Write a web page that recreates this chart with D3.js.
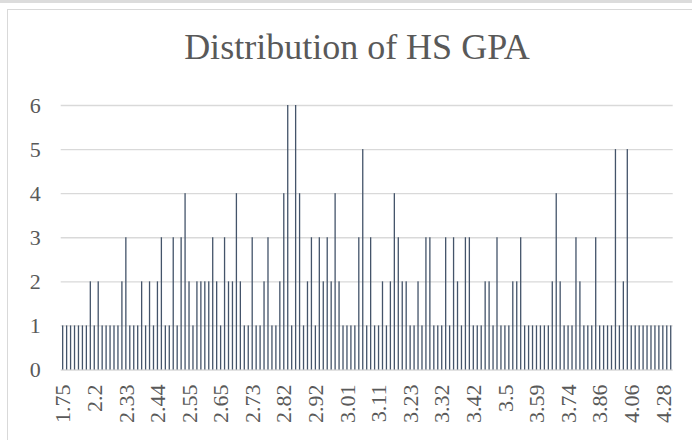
<!DOCTYPE html>
<html>
<head>
<meta charset="utf-8">
<script src="https://cdn.jsdelivr.net/npm/d3@7"></script>
<style>
  html, body { margin: 0; padding: 0; background: #fff; }
  svg { display: block; }
</style>
</head>
<body>
<svg id="chart" width="692" height="440"></svg>
<script>
// HS GPA values (sorted unique), one bar per value
const gpa = [
  '1.75', '1.8', '1.88', '1.9', '1.95', '2', '2.07', '2.13',
  '2.2', '2.21', '2.23', '2.25', '2.26', '2.28', '2.3', '2.31',
  '2.33', '2.34', '2.36', '2.37', '2.38', '2.4', '2.41', '2.43',
  '2.44', '2.45', '2.46', '2.48', '2.49', '2.5', '2.52', '2.53',
  '2.55', '2.56', '2.57', '2.58', '2.6', '2.61', '2.62', '2.63',
  '2.65', '2.66', '2.67', '2.68', '2.69', '2.7', '2.71', '2.72',
  '2.73', '2.74', '2.75', '2.76', '2.77', '2.78', '2.8', '2.81',
  '2.82', '2.83', '2.84', '2.85', '2.87', '2.88', '2.89', '2.9',
  '2.92', '2.93', '2.94', '2.95', '2.96', '2.97', '2.98', '3',
  '3.01', '3.02', '3.03', '3.04', '3.06', '3.07', '3.08', '3.1',
  '3.11', '3.12', '3.14', '3.15', '3.17', '3.18', '3.2', '3.21',
  '3.23', '3.24', '3.25', '3.26', '3.27', '3.28', '3.3', '3.31',
  '3.32', '3.33', '3.34', '3.35', '3.37', '3.38', '3.39', '3.4',
  '3.42', '3.43', '3.44', '3.45', '3.46', '3.47', '3.48', '3.49',
  '3.5', '3.51', '3.52', '3.53', '3.54', '3.55', '3.57', '3.58',
  '3.59', '3.6', '3.62', '3.64', '3.66', '3.68', '3.7', '3.72',
  '3.74', '3.75', '3.77', '3.78', '3.8', '3.81', '3.83', '3.84',
  '3.86', '3.88', '3.9', '3.93', '3.95', '3.98', '4', '4.03',
  '4.06', '4.09', '4.12', '4.14', '4.17', '4.2', '4.22', '4.25',
  '4.28', '4.31', '4.35'
];

// number of students with each GPA
const counts = [
  1, 1, 1, 1, 1, 1, 1, 2, 1, 2,
  1, 1, 1, 1, 1, 2, 3, 1, 1, 1,
  2, 1, 2, 1, 2, 3, 1, 1, 3, 1,
  3, 4, 2, 1, 2, 2, 2, 2, 3, 2,
  1, 3, 2, 2, 4, 2, 1, 1, 3, 1,
  1, 2, 3, 1, 1, 2, 4, 6, 1, 6,
  4, 1, 2, 3, 1, 3, 2, 3, 2, 4,
  2, 1, 1, 1, 1, 3, 5, 1, 3, 1,
  1, 2, 1, 2, 4, 3, 2, 2, 1, 1,
  2, 1, 3, 3, 1, 1, 1, 3, 1, 3,
  2, 1, 3, 3, 1, 1, 1, 2, 2, 1,
  3, 1, 1, 1, 2, 2, 3, 1, 1, 1,
  1, 1, 1, 1, 2, 4, 2, 1, 1, 1,
  3, 2, 1, 1, 1, 3, 1, 1, 1, 1,
  5, 1, 2, 5, 1, 1, 1, 1, 1, 1,
  1, 1, 1, 1, 1
];

// Excel only labels every 8th category
const xTickLabels = [
  '1.75', '2.2', '2.33', '2.44', '2.55', '2.65', '2.73', '2.82', '2.92', '3.01',
  '3.11', '3.23', '3.32', '3.42', '3.5', '3.59', '3.74', '3.86', '4.06', '4.28'
];
const yTicks = [0, 1, 2, 3, 4, 5, 6];

const serif = '"Liberation Serif", "DejaVu Serif", serif';
const textColor = '#595959';
const gridColor = '#d9d9d9';
const barColor = '#44546A';

const svg = d3.select('#chart');

// page strip + chart frame
svg.append('rect').attr('x', 0).attr('y', 0).attr('width', 692).attr('height', 3).attr('fill', '#dcdcdc');
svg
  .append('rect')
  .attr('x', 7.5)
  .attr('y', 9.5)
  .attr('width', 720)
  .attr('height', 500)
  .attr('fill', '#fff')
  .attr('stroke', gridColor)
  .attr('stroke-width', 1);

const x = d3.scaleBand().domain(gpa).range([60.7, 672.7]).padding(0);
const y = d3.scaleLinear().domain([0, 6]).range([369.5, 105]);

svg
  .append('text')
  .attr('x', 357)
  .attr('y', 59)
  .attr('text-anchor', 'middle')
  .attr('font-family', serif)
  .attr('font-size', 36)
  .attr('fill', textColor)
  .text('Distribution of HS GPA');

// horizontal gridlines + y labels
const yAxis = svg
  .append('g')
  .attr('transform', 'translate(60.7,0)')
  .call(d3.axisLeft(y).tickValues(yTicks).tickSize(-612).tickPadding(20).tickFormat(d3.format('d')));
yAxis.select('.domain').remove();
yAxis.selectAll('line').attr('stroke', gridColor).attr('stroke-width', 1.3);
yAxis
  .selectAll('text')
  .attr('font-family', serif)
  .attr('font-size', 22)
  .attr('fill', textColor);

// bars
svg
  .append('g')
  .selectAll('rect')
  .data(counts)
  .join('rect')
  .attr('x', (d, i) => x(gpa[i]) + x.bandwidth() / 2 - 0.65)
  .attr('width', 1.3)
  .attr('y', (d) => y(d))
  .attr('height', (d) => y(0) - y(d))
  .attr('fill', barColor);

// category labels, rotated
const xAxis = svg
  .append('g')
  .attr('transform', `translate(0,${y(0)})`)
  .call(
    d3
      .axisBottom(x)
      .tickValues(gpa.filter((g) => xTickLabels.includes(g)))
      .tickSize(0)
      .tickPadding(0)
  );
xAxis.select('.domain').remove();
xAxis
  .selectAll('text')
  .attr('font-family', serif)
  .attr('font-size', 22)
  .attr('fill', textColor)
  .attr('text-anchor', 'end')
  .attr('transform', 'rotate(-90)')
  .attr('x', -15)
  .attr('y', 0)
  .attr('dy', '0.35em');
</script>
</body>
</html>
